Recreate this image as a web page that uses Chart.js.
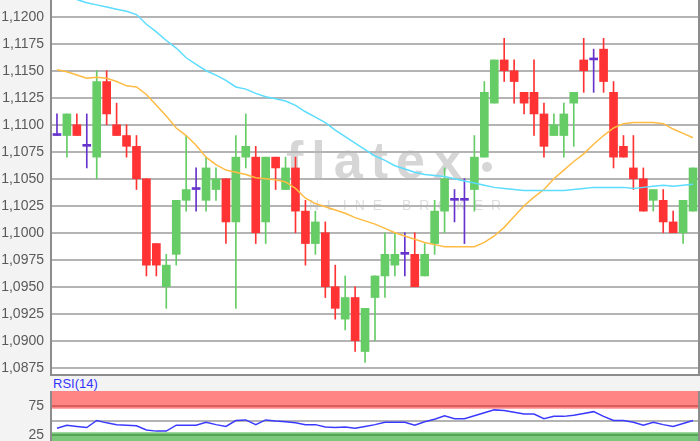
<!DOCTYPE html>
<html>
<head>
<meta charset="utf-8">
<script src="https://cdn.jsdelivr.net/npm/chart.js@4.4.1/dist/chart.umd.min.js"></script>
<style>
  html, body { margin: 0; padding: 0; width: 700px; height: 441px; overflow: hidden; background: #f3f3f3; }
  #main { position: absolute; left: 0; top: 0; }
  #rsi { position: absolute; left: 0; top: 391px; }
  #rsiLabel { position: absolute; left: 53px; top: 376px; font: 13px 'Liberation Sans', Arial, sans-serif; color: #3333ff; }
</style>
</head>
<body>
<canvas id="main" width="700" height="376"></canvas>
<div id="rsiLabel">RSI(14)</div>
<canvas id="rsi" width="700" height="60"></canvas>
<script>
// Kerzen (Open / High / Low / Close)
const opens = [1.1090, 1.1090, 1.1100, 1.1080, 1.1070, 1.1140, 1.1100, 1.1090, 1.1080, 1.1050,
  1.0990, 1.0950, 1.0980, 1.1030, 1.1040, 1.1030, 1.1040, 1.1050, 1.1010, 1.1070,
  1.1070, 1.1010, 1.1070, 1.1040, 1.1060, 1.1020, 1.0990, 1.1000, 1.0950, 1.0920,
  1.0940, 1.0890, 1.0940, 1.0960, 1.0970, 1.0980, 1.0980, 1.0960, 1.0990, 1.1020,
  1.1030, 1.1030, 1.1040, 1.1070, 1.1120, 1.1160, 1.1150, 1.1130, 1.1130, 1.1110,
  1.1090, 1.1090, 1.1120, 1.1160, 1.1160, 1.1170, 1.1130, 1.1080, 1.1060, 1.1050,
  1.1030, 1.1030, 1.1010, 1.1000, 1.1020];
const highs = [1.1110, 1.1110, 1.1110, 1.1110, 1.1150, 1.1150, 1.1120, 1.1100, 1.1090, 1.1050,
  1.0990, 1.0980, 1.1030, 1.1090, 1.1060, 1.1070, 1.1060, 1.1050, 1.1090, 1.1110,
  1.1080, 1.1070, 1.1070, 1.1070, 1.1070, 1.1030, 1.1020, 1.1010, 1.0970, 1.0960,
  1.0950, 1.0930, 1.0960, 1.1000, 1.1000, 1.1000, 1.1000, 1.0990, 1.1030, 1.1060,
  1.1040, 1.1050, 1.1090, 1.1140, 1.1160, 1.1180, 1.1160, 1.1130, 1.1160, 1.1120,
  1.1110, 1.1120, 1.1130, 1.1180, 1.1170, 1.1180, 1.1140, 1.1090, 1.1090, 1.1060,
  1.1040, 1.1040, 1.1020, 1.1030, 1.1060];
const lows = [1.1090, 1.1070, 1.1090, 1.1060, 1.1050, 1.1100, 1.1090, 1.1070, 1.1040, 1.0960,
  1.0960, 1.0930, 1.0970, 1.1020, 1.1020, 1.1020, 1.1030, 1.0990, 1.0930, 1.1060,
  1.0990, 1.0990, 1.1040, 1.1040, 1.1000, 1.0970, 1.0980, 1.0940, 1.0920, 1.0910,
  1.0890, 1.0880, 1.0900, 1.0940, 1.0960, 1.0960, 1.0950, 1.0960, 1.0980, 1.1000,
  1.1010, 1.0990, 1.1020, 1.1070, 1.1120, 1.1140, 1.1120, 1.1110, 1.1090, 1.1070,
  1.1090, 1.1070, 1.1080, 1.1130, 1.1130, 1.1130, 1.1060, 1.1070, 1.1040, 1.1020,
  1.1020, 1.1000, 1.1000, 1.0990, 1.1020];
const closes = [1.1090, 1.1110, 1.1090, 1.1080, 1.1140, 1.1110, 1.1090, 1.1080, 1.1050, 1.0970,
  1.0970, 1.0970, 1.1030, 1.1040, 1.1040, 1.1060, 1.1050, 1.1010, 1.1070, 1.1080,
  1.1000, 1.1070, 1.1060, 1.1060, 1.1020, 1.0990, 1.1010, 1.0950, 1.0930, 1.0940,
  1.0900, 1.0930, 1.0960, 1.0980, 1.0980, 1.0980, 1.0950, 1.0980, 1.1020, 1.1050,
  1.1030, 1.1030, 1.1070, 1.1130, 1.1160, 1.1150, 1.1140, 1.1120, 1.1110, 1.1080,
  1.1100, 1.1110, 1.1130, 1.1150, 1.1160, 1.1140, 1.1070, 1.1070, 1.1050, 1.1020,
  1.1040, 1.1010, 1.1000, 1.1030, 1.1060];

// gleitende Durchschnitte
const maSlow = [1.1229, 1.1222, 1.1216, 1.1213, 1.1211, 1.1209, 1.1207, 1.1205, 1.1202, 1.1193,
  1.1186, 1.1178, 1.1171, 1.1162, 1.1156, 1.1150, 1.1146, 1.1141, 1.1135, 1.1133,
  1.1129, 1.1126, 1.1124, 1.1122, 1.1118, 1.1112, 1.1107, 1.1102, 1.1095, 1.1089,
  1.1083, 1.1077, 1.1071, 1.1067, 1.1062, 1.1059, 1.1056, 1.1054, 1.1053, 1.1052,
  1.1050, 1.1048, 1.1046, 1.1044, 1.1042, 1.1041, 1.1040, 1.1039, 1.1039, 1.1039,
  1.1039, 1.1039, 1.1040, 1.1041, 1.1042, 1.1042, 1.1042, 1.1042, 1.1041, 1.1042,
  1.1043, 1.1044, 1.1043, 1.1044, 1.1045];
const maFast = [1.1151, 1.1149, 1.1146, 1.1143, 1.1144, 1.1143, 1.1140, 1.1136, 1.1135, 1.1128,
  1.1118, 1.1108, 1.1097, 1.1090, 1.1081, 1.1070, 1.1063, 1.1058, 1.1056, 1.1054,
  1.1051, 1.1050, 1.1049, 1.1047, 1.1041, 1.1032, 1.1027, 1.1024, 1.1021, 1.1018,
  1.1014, 1.1011, 1.1008, 1.1004, 1.1000, 1.0997, 1.0994, 1.0991, 1.0989, 1.0987,
  1.0987, 1.0987, 1.0987, 1.0991, 1.0997, 1.1005, 1.1015, 1.1025, 1.1033, 1.1040,
  1.1050, 1.1058, 1.1066, 1.1073, 1.1082, 1.1090, 1.1097, 1.1101, 1.1102, 1.1102,
  1.1102, 1.1101, 1.1096, 1.1092, 1.1088];

// RSI(14)
const rsi = [37, 42, 40, 38, 50, 46, 43, 42, 41, 34,
  32, 32, 42, 42, 42, 47, 43, 40, 50, 51,
  43, 51, 49, 48, 46, 43, 43, 39, 38, 39,
  37, 40, 43, 47, 47, 47, 42, 48, 52, 58,
  53, 53, 58, 63, 68, 67, 64, 61, 61, 53,
  57, 57, 59, 62, 65, 57, 50, 50, 47, 42,
  47, 43, 40, 45, 50];

const priceTicks = [1.0875, 1.0900, 1.0925, 1.0950, 1.0975, 1.1000, 1.1025, 1.1050,
  1.1075, 1.1100, 1.1125, 1.1150, 1.1175, 1.1200];
const rsiTicks = [25, 50, 75];
const rsiLabels = [25, 75];

const labels = opens.map((_, i) => i + 1);

const GREEN = "#66cc66";
const RED = "#ff3333";
const DOJI = "#6633cc";
const candleColor = (i) =>
  closes[i] > opens[i] ? GREEN : closes[i] < opens[i] ? RED : DOJI;

Chart.defaults.font.family = "'Liberation Sans', Arial, sans-serif";
Chart.defaults.font.size = 14;
Chart.defaults.color = "#5a5a5a";

// weisser Plotbereich + Rahmen
const panel = {
  id: "panel",
  beforeDraw(chart) {
    const { ctx, chartArea: a } = chart;
    ctx.save();
    ctx.fillStyle = "#ffffff";
    ctx.fillRect(a.left, a.top, a.right - a.left, a.bottom - a.top);
    ctx.restore();
  },
  afterDraw(chart) {
    const { ctx, chartArea: a } = chart;
    ctx.save();
    ctx.strokeStyle = "#8c8c8c";
    ctx.lineWidth = 2;
    ctx.beginPath();
    ctx.moveTo(a.left - 1, a.top);
    ctx.lineTo(a.left - 1, a.bottom + 1);
    ctx.lineTo(a.right + 1, a.bottom + 1);
    ctx.lineTo(a.right + 1, a.top);
    ctx.stroke();
    ctx.restore();
  },
};

const spaced = (ctx, text, x, y, gap) => {
  for (const ch of text) {
    ctx.fillText(ch, x, y);
    x += ctx.measureText(ch).width + gap;
  }
};

// Wasserzeichen
const watermark = {
  id: "watermark",
  beforeDraw(chart) {
    const ctx = chart.ctx;
    ctx.save();
    ctx.textBaseline = "alphabetic";
    ctx.fillStyle = "#d6d6d6";
    ctx.font = "bold 52px 'Liberation Sans', Arial, sans-serif";
    spaced(ctx, "flatex", 286, 178, 8);
    ctx.beginPath();
    ctx.arc(487, 167, 5, 0, Math.PI * 2);
    ctx.fill();
    ctx.fillStyle = "#dedede";
    ctx.font = "14px 'Liberation Sans', Arial, sans-serif";
    spaced(ctx, "ONLINE BROKER", 290, 210, 8);
    ctx.restore();
  },
};

const bands = {
  id: "bands",
  beforeDatasetsDraw(chart) {
    const { ctx, chartArea: a, scales } = chart;
    const y = scales.y;
    ctx.save();
    ctx.fillStyle = "rgba(255,0,0,0.48)";
    ctx.fillRect(a.left, y.getPixelForValue(100), a.right - a.left,
      y.getPixelForValue(70) - y.getPixelForValue(100));
    ctx.fillStyle = "rgba(0,150,0,0.52)";
    ctx.fillRect(a.left, y.getPixelForValue(30), a.right - a.left,
      y.getPixelForValue(0) - y.getPixelForValue(30));
    ctx.restore();
  },
};

const fixAxis = (s) => {
  s.width = 52;
  s.paddingTop = 0;
  s.paddingBottom = 0;
};

new Chart(document.getElementById("main"), {
  type: "bar",
  data: {
    labels,
    datasets: [
      {
        type: "line",
        data: maSlow,
        borderColor: "#5cdcff",
        borderWidth: 1.5,
        pointRadius: 0,
        order: 1,
      },
      {
        type: "line",
        data: maFast,
        borderColor: "#ffbb44",
        borderWidth: 1.5,
        pointRadius: 0,
        order: 1,
      },
      {
        data: opens.map((o, i) => [o, closes[i]]),
        backgroundColor: labels.map((_, i) => candleColor(i)),
        barThickness: 8,
        minBarLength: 2,
        grouped: false,
        order: 2,
      },
      {
        data: lows.map((l, i) => [l, highs[i]]),
        backgroundColor: labels.map((_, i) => candleColor(i)),
        barThickness: 1,
        grouped: false,
        order: 3,
      },
    ],
  },
  options: {
    responsive: false,
    animation: false,
    layout: { padding: { top: 0, right: 2, bottom: 2, left: 0 } },
    plugins: { legend: { display: false }, tooltip: { enabled: false } },
    scales: {
      x: {
        ticks: { display: false },
        grid: { display: false },
        border: { display: false },
        afterFit: (s) => { s.height = 0; },
      },
      y: {
        min: 1.08692,
        max: 1.12155,
        afterBuildTicks: (s) => { s.ticks = priceTicks.map((v) => ({ value: v })); },
        afterFit: fixAxis,
        ticks: {
          padding: 8,
          callback: (v) => v.toFixed(4).replace(".", ","),
        },
        grid: { color: "#b4b4b4", lineWidth: 2, drawTicks: false },
        border: { display: false },
      },
    },
  },
  plugins: [panel, watermark],
});

new Chart(document.getElementById("rsi"), {
  type: "line",
  data: {
    labels,
    datasets: [
      {
        data: rsi,
        borderColor: "#3a3aff",
        borderWidth: 1.5,
        pointRadius: 0,
      },
    ],
  },
  options: {
    responsive: false,
    animation: false,
    layout: { padding: { top: 0, right: 2, bottom: 1, left: 0 } },
    plugins: { legend: { display: false }, tooltip: { enabled: false } },
    scales: {
      x: {
        offset: true,
        ticks: { display: false },
        grid: { display: false },
        border: { display: false },
        afterFit: (s) => { s.height = 0; },
      },
      y: {
        min: 0,
        max: 100,
        afterBuildTicks: (s) => { s.ticks = rsiTicks.map((v) => ({ value: v })); },
        afterFit: fixAxis,
        ticks: {
          padding: 8,
          callback: (v) => (rsiLabels.includes(v) ? String(v) : ""),
        },
        grid: { color: "#b4b4b4", lineWidth: 2, drawTicks: false },
        border: { display: false },
      },
    },
  },
  plugins: [panel, bands],
});
</script>
</body>
</html>
